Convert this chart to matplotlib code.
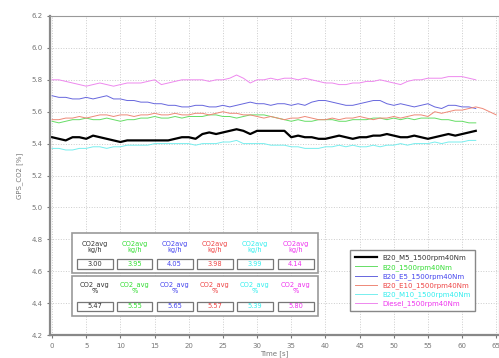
import matplotlib
matplotlib.use('Agg')
import matplotlib.pyplot as plt
from matplotlib.patches import Rectangle
import numpy as np

''' data read off the chart '''

labels = ['B20_M5_1500rpm40Nm', 'B20_1500rpm40Nm', 'B20_E5_1500rpm40Nm',
          'B20_E10_1500rpm40Nm', 'B20_M10_1500rpm40Nm', 'Diesel_1500rpm40Nm']

black_m5 = [5.44, 5.43, 5.42, 5.44, 5.44, 5.43, 5.45, 5.44, 5.43, 5.42,
            5.41, 5.42, 5.42, 5.42, 5.42, 5.42, 5.42, 5.42, 5.43, 5.44,
            5.44, 5.43, 5.46, 5.47, 5.46, 5.47, 5.48, 5.49, 5.48, 5.46,
            5.48, 5.48, 5.48, 5.48, 5.48, 5.44, 5.45, 5.44, 5.44, 5.43,
            5.43, 5.44, 5.45, 5.44, 5.43, 5.44, 5.44, 5.45, 5.45, 5.46,
            5.45, 5.44, 5.44, 5.45, 5.44, 5.43, 5.44, 5.45, 5.46, 5.45,
            5.46, 5.47, 5.48]
green_b20 = [5.54, 5.53, 5.54, 5.55, 5.55, 5.56, 5.55, 5.55, 5.56, 5.55,
             5.54, 5.55, 5.55, 5.56, 5.56, 5.57, 5.56, 5.56, 5.57, 5.56,
             5.57, 5.57, 5.57, 5.58, 5.58, 5.57, 5.57, 5.56, 5.57, 5.58,
             5.58, 5.58, 5.57, 5.56, 5.55, 5.54, 5.55, 5.54, 5.54, 5.55,
             5.55, 5.55, 5.54, 5.54, 5.55, 5.55, 5.55, 5.56, 5.56, 5.55,
             5.56, 5.55, 5.56, 5.55, 5.56, 5.56, 5.56, 5.55, 5.55, 5.54,
             5.54, 5.53, 5.53]
blue_e5 = [5.70, 5.69, 5.69, 5.68, 5.68, 5.69, 5.68, 5.69, 5.70, 5.68,
           5.68, 5.67, 5.67, 5.66, 5.66, 5.65, 5.65, 5.64, 5.64, 5.63,
           5.63, 5.64, 5.64, 5.63, 5.63, 5.64, 5.63, 5.64, 5.65, 5.66,
           5.65, 5.65, 5.64, 5.65, 5.65, 5.64, 5.65, 5.64, 5.66, 5.67,
           5.67, 5.66, 5.65, 5.64, 5.64, 5.65, 5.66, 5.67, 5.67, 5.65,
           5.64, 5.65, 5.64, 5.63, 5.64, 5.65, 5.63, 5.62, 5.64, 5.64,
           5.63, 5.63, 5.62]
red_e10 = [5.55, 5.55, 5.56, 5.56, 5.57, 5.56, 5.57, 5.58, 5.58, 5.57,
           5.58, 5.58, 5.57, 5.58, 5.58, 5.59, 5.58, 5.58, 5.59, 5.58,
           5.58, 5.59, 5.59, 5.58, 5.59, 5.60, 5.59, 5.59, 5.58, 5.58,
           5.57, 5.56, 5.57, 5.56, 5.55, 5.56, 5.56, 5.57, 5.56, 5.55,
           5.55, 5.56, 5.55, 5.56, 5.56, 5.57, 5.56, 5.55, 5.56, 5.56,
           5.57, 5.56, 5.57, 5.58, 5.58, 5.57, 5.60, 5.59, 5.60, 5.61,
           5.61, 5.62, 5.63, 5.62, 5.60, 5.58]
cyan_m10 = [5.37, 5.37, 5.36, 5.36, 5.37, 5.37, 5.38, 5.38, 5.37, 5.38,
            5.38, 5.39, 5.39, 5.39, 5.39, 5.40, 5.40, 5.40, 5.40, 5.40,
            5.40, 5.39, 5.40, 5.40, 5.40, 5.41, 5.41, 5.42, 5.40, 5.40,
            5.40, 5.40, 5.39, 5.39, 5.39, 5.38, 5.38, 5.37, 5.37, 5.37,
            5.38, 5.38, 5.39, 5.38, 5.39, 5.38, 5.38, 5.39, 5.38, 5.39,
            5.39, 5.40, 5.39, 5.40, 5.40, 5.40, 5.41, 5.40, 5.41, 5.41,
            5.41, 5.42, 5.42]
magenta_diesel = [5.80, 5.80, 5.79, 5.78, 5.77, 5.76, 5.77, 5.78, 5.77, 5.76,
                  5.77, 5.78, 5.78, 5.78, 5.79, 5.80, 5.77, 5.78, 5.79, 5.80,
                  5.80, 5.80, 5.80, 5.79, 5.80, 5.80, 5.81, 5.83, 5.81, 5.78,
                  5.80, 5.80, 5.81, 5.80, 5.81, 5.81, 5.80, 5.81, 5.80, 5.79,
                  5.78, 5.78, 5.77, 5.77, 5.78, 5.78, 5.79, 5.79, 5.80, 5.79,
                  5.78, 5.77, 5.79, 5.80, 5.80, 5.81, 5.81, 5.81, 5.82, 5.82,
                  5.82, 5.81, 5.80]

avg_kgh = ['3.00', '3.95', '4.05', '3.98', '3.99', '4.14']
avg_pct = ['5.47', '5.55', '5.65', '5.57', '5.39', '5.80']

series = [black_m5, green_b20, blue_e5, red_e10, cyan_m10, magenta_diesel]
line_colors = ['black', '#66dd66', '#6666dd', '#ee8877', '#77eeee', '#ee88ee']
text_colors = ['#333333', '#33dd33', '#4444ee', '#ee4444', '#33eeee', '#ee33ee']
widths = [1.6, 0.7, 0.7, 0.7, 0.7, 0.7]

''' plotting '''

W, H = 499, 358
fig = plt.figure(figsize=(W / 100, H / 100), dpi=100)
ax = fig.add_axes([50 / W, (H - 335) / H, (W - 50) / W, (335 - 16) / H])

handles = []
for vals, c, lw, lab in zip(series, line_colors, widths, labels):
    t = np.arange(len(vals))
    h, = ax.plot(t, vals, color=c, linewidth=lw, label=lab)
    handles.append(h)

ax.set_xlim(-0.3, 65.4)
ax.set_ylim(4.2, 6.2)
ax.set_xticks(np.arange(0, 66, 5))
ax.set_yticks(np.arange(4.2, 6.21, 0.2))
ax.set_yticklabels(['%.1f' % v for v in np.arange(4.2, 6.21, 0.2)])
ax.grid(True, color='#cccccc', linestyle=':', linewidth=0.7)
ax.tick_params(labelsize=5, colors='#777777', length=2, width=0.8)
for s in ['left', 'bottom']:
    ax.spines[s].set_color('#888888')
    ax.spines[s].set_linewidth(1.6)
for s in ['top', 'right']:
    ax.spines[s].set_color('#999999')
    ax.spines[s].set_linewidth(0.8)
ax.set_xlabel('Time [s]', fontsize=5, color='#777777', labelpad=1)
ax.set_ylabel('GPS_CO2 [%]', fontsize=5, color='#777777', labelpad=6)

leg = ax.legend(handles=handles, loc='upper left',
                bbox_to_anchor=(347 / W, 1 - 247 / H), bbox_transform=fig.transFigure,
                fontsize=5, handlelength=3.2, labelspacing=0.35, borderpad=0.6,
                fancybox=False, framealpha=1, edgecolor='#888888')
leg.get_frame().set_linewidth(1.0)
for txt, c in zip(leg.get_texts(), text_colors):
    txt.set_color(c)


def fx(x):
    return x / W


def fy(y):
    return 1 - y / H


def box(x0, y0, x1, y1, lw=1.0, ec='#999999'):
    fig.patches.append(Rectangle((fx(x0), fy(y1)), fx(x1) - fx(x0), fy(y0) - fy(y1),
                                 transform=fig.transFigure, facecolor='white',
                                 edgecolor=ec, linewidth=lw, zorder=5))


# the two summary panels
box(72, 233, 318, 273, lw=1.2)
box(72, 276, 318, 316, lw=1.2)
centers = [94.5, 134.5, 174.5, 214.5, 254.5, 295.5]
for i, cx in enumerate(centers):
    c = text_colors[i]
    fig.text(fx(cx), fy(247), 'CO2avg\nkg/h', ha='center', va='center', fontsize=4.8,
             color=c, linespacing=1.0, zorder=6)
    box(cx - 18, 259, cx + 18, 269, lw=0.9, ec='#777777')
    fig.text(fx(cx), fy(264), avg_kgh[i], ha='center', va='center', fontsize=4.8,
             color=c, zorder=6)
    fig.text(fx(cx), fy(288), 'CO2_avg\n%', ha='center', va='center', fontsize=4.8,
             color=c, linespacing=1.0, zorder=6)
    box(cx - 18, 302, cx + 18, 311, lw=0.9, ec='#777777')
    fig.text(fx(cx), fy(306.5), avg_pct[i], ha='center', va='center', fontsize=4.8,
             color=c, zorder=6)

plt.savefig('out.png', dpi=100)
